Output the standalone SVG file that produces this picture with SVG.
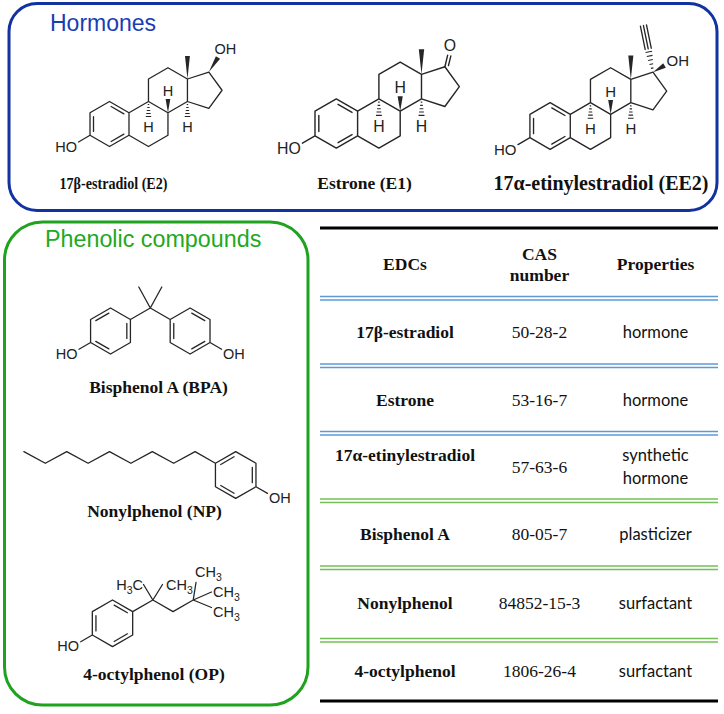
<svg xmlns="http://www.w3.org/2000/svg" width="724" height="714" viewBox="0 0 724 714">
<style>
.bd{fill:none;stroke:#262626;stroke-width:1.3;stroke-linecap:round;stroke-linejoin:round}
.hs{fill:none;stroke:#262626;stroke-width:1.1}
.wd{fill:#262626}
.at{font-family:"Liberation Sans",Arial,sans-serif;font-size:14.5px;fill:#222}
.lb{font-family:"Liberation Serif","Times New Roman",serif;font-weight:bold;fill:#111;text-anchor:middle}
.tb{font-family:"Liberation Serif","Times New Roman",serif;font-weight:bold;font-size:17.5px;fill:#111;text-anchor:middle}
.tn{font-family:"Liberation Serif","Times New Roman",serif;font-size:17.5px;fill:#111;text-anchor:middle}
.tp{font-family:Lato,"Liberation Sans",sans-serif;font-size:16.5px;fill:#111;text-anchor:middle}
.bl{stroke:#5b9bd5;stroke-width:1.5}
.gl{stroke:#72bf55;stroke-width:1.5}
.bk{stroke:#000;stroke-width:3}
</style>
<defs>
<g id="core">
<path class="bd" d="M0,-22.5 L19.49,-11.25 L19.49,11.25 L0,22.5 L-19.49,11.25 L-19.49,-11.25 Z M19.49,-11.25 L38.97,-22.5 L58.46,-11.25 L58.46,11.25 L38.97,22.5 L19.49,11.25 M38.97,-22.5 L38.97,-45 L58.46,-56.25 L77.94,-45 L77.94,-22.5 L58.46,-11.25 M77.94,-45 L99.34,-51.95 L112.57,-33.75 L99.34,-15.55 L77.94,-22.5 M-15.99,-7.38 L-15.99,7.38 M1.6,-17.54 L14.39,-10.15 M1.6,17.54 L14.39,10.15 M-19.49,11.25 L-31,18"/>
<path class="hs" d="M38.27,-19.5h1.4 M37.77,-16.5h2.4 M37.27,-13.5h3.4 M36.77,-10.5h4.4 M36.27,-7.5h5.4 M77.24,-19.5h1.4 M76.74,-16.5h2.4 M76.24,-13.5h3.4 M75.74,-10.5h4.4 M75.24,-7.5h5.4"/>
<polygon class="wd" points="58.46,-11.25 56.1,-25 60.8,-25"/>
<polygon class="wd" points="77.94,-45 75.5,-68 80.4,-68"/>
<text class="at" x="38.97" y="7.5" text-anchor="middle">H</text>
<text class="at" x="77.94" y="7.5" text-anchor="middle">H</text>
<text class="at" x="58.46" y="-28" text-anchor="middle">H</text>
<text class="at" x="-32.5" y="28" text-anchor="end">HO</text>
</g>
</defs>
<rect width="724" height="714" fill="#fff"/>

<g id="hormones-box">
<rect x="9" y="3.5" width="708" height="207" rx="28" fill="none" stroke="#12329f" stroke-width="3"/>
<text x="50" y="31" font-family="Liberation Sans, Arial, sans-serif" font-size="23" fill="#1a3db5">Hormones</text>
</g>

<g id="E2">
<g transform="translate(109.5,124)">
<use href="#core"/>
<polygon class="wd" points="99.34,-51.95 110.6,-65.2 106.4,-67.8"/>
<text class="at" x="105" y="-70.5">OH</text>
</g>
<text class="lb" x="113.5" y="188.5" font-size="16" textLength="108" lengthAdjust="spacingAndGlyphs">17β-estradiol (E2)</text>
</g>

<g id="E1">
<g transform="translate(336.3,123.5) scale(1.093)">
<use href="#core"/>
<path class="bd" d="M99.34,-51.95 L101.9,-62.5 M102.6,-53 L104.8,-61.8"/>
<text class="at" x="104" y="-66.8" text-anchor="middle">O</text>
</g>
<text class="lb" x="364.5" y="189" font-size="17.5">Estrone (E1)</text>
</g>

<g id="EE2">
<g transform="translate(550.1,126) scale(1.0356)">
<use href="#core"/>
<path class="hs" d="M97.36,-55.63 L99.72,-56.11 M95.98,-59.43 L99.5,-60.15 M94.69,-63.25 L99.19,-64.17 M93.4,-67.07 L98.88,-68.19 M92.2,-70.91 L98.48,-72.19"/>
<path class="bd" d="M94.74,-74.5 L90.14,-97 M97.68,-75.1 L93.08,-97.6 M91.8,-73.9 L87.2,-96.4"/>
<polygon class="wd" points="99.34,-51.95 111.77,-56.34 109.23,-60.66"/>
<text class="at" x="112.5" y="-57.5">OH</text>
</g>
<text class="lb" x="601" y="190" font-size="20">17α-etinylestradiol (EE2)</text>
</g>

<g id="phenolic-box">
<rect x="4.5" y="222" width="303.5" height="483" rx="38" fill="none" stroke="#1fa31f" stroke-width="3"/>
<text x="45" y="247" font-family="Liberation Sans, Arial, sans-serif" font-size="23.3" fill="#22a822">Phenolic compounds</text>
</g>

<g id="BPA">
<path class="bd" d="M110.5,308 L130.42,319.5 L130.42,342.5 L110.5,354 L90.58,342.5 L90.58,319.5 Z M190.1,308 L210.02,319.5 L210.02,342.5 L190.1,354 L170.18,342.5 L170.18,319.5 Z M130.42,319.5 L150.3,308 L170.18,319.5 M150.3,308 L138.8,287 M150.3,308 L161.8,287 M95.8,320.63 L108.87,313.08 M126.83,323.46 L126.83,338.54 M108.87,348.92 L95.8,341.37 M173.77,323.46 L173.77,338.54 M191.73,348.92 L204.8,341.37 M204.8,320.63 L191.73,313.08 M90.58,342.5 L79,349.2 M210.02,342.5 L221.6,349.2"/>
<text class="at" x="77.5" y="358.5" text-anchor="end">HO</text>
<text class="at" x="223" y="358.5">OH</text>
<text class="lb" x="158.5" y="393" font-size="17.5">Bisphenol A (BPA)</text>
</g>

<g id="NP">
<path class="bd" d="M23.9,451.6 L45.3,463.3 L66.7,451.6 L88.1,463.3 L109.5,451.6 L130.9,463.3 L152.3,451.6 L173.7,463.3 L195.1,451.6 L215.44,463.3 M235.7,451.6 L255.96,463.3 L255.96,486.7 L235.7,498.4 L215.44,486.7 L215.44,463.3 Z M252.31,467.3 L252.31,482.7 M220.75,464.45 L234.04,456.77 M234.04,493.23 L220.75,485.55 M255.96,486.7 L267.5,493.4"/>
<text class="at" x="269" y="503">OH</text>
<text class="lb" x="154.5" y="517" font-size="17.5">Nonylphenol (NP)</text>
</g>

<g id="OP">
<path class="bd" d="M112.5,600 L132.68,611.65 L132.68,634.95 L112.5,646.6 L92.32,634.95 L92.32,611.65 Z M95.95,615.66 L95.95,630.94 M114.16,605.15 L127.4,612.79 M114.16,641.45 L127.4,633.81 M92.32,634.95 L80.7,641.7 M132.68,611.65 L152.86,600 L173.04,611.65 L193.22,600 M152.86,600 L143.5,584.5 M152.86,600 L162.5,584.5 M193.22,600 L196,582.5 M193.22,600 L211.5,592 M193.22,600 L211.5,607.5"/>
<text class="at" x="79" y="651" text-anchor="end">HO</text>
<text class="at" x="143" y="590" text-anchor="end">H<tspan font-size="10.5" dy="4">3</tspan><tspan dy="-4">C</tspan></text>
<text class="at" x="166" y="590">CH<tspan font-size="10.5" dy="4">3</tspan></text>
<text class="at" x="195" y="577">CH<tspan font-size="10.5" dy="4">3</tspan></text>
<text class="at" x="213" y="597">CH<tspan font-size="10.5" dy="4">3</tspan></text>
<text class="at" x="213" y="617">CH<tspan font-size="10.5" dy="4">3</tspan></text>
<text class="lb" x="154" y="680" font-size="17.5">4-octylphenol (OP)</text>
</g>

<g id="table-lines">
<line class="bk" x1="320" y1="228" x2="718" y2="228"/>
<line class="bl" x1="320" y1="296.5" x2="718" y2="296.5"/>
<line class="bl" x1="320" y1="300" x2="718" y2="300"/>
<line class="bl" x1="320" y1="364" x2="718" y2="364"/>
<line class="bl" x1="320" y1="367.5" x2="718" y2="367.5"/>
<line class="bl" x1="320" y1="431.5" x2="718" y2="431.5"/>
<line class="bl" x1="320" y1="435" x2="718" y2="435"/>
<line class="gl" x1="320" y1="499" x2="718" y2="499"/>
<line class="gl" x1="320" y1="502.5" x2="718" y2="502.5"/>
<line class="gl" x1="320" y1="566" x2="718" y2="566"/>
<line class="gl" x1="320" y1="569.5" x2="718" y2="569.5"/>
<line class="gl" x1="320" y1="638.5" x2="718" y2="638.5"/>
<line class="gl" x1="320" y1="642" x2="718" y2="642"/>
<line class="bk" x1="320" y1="701" x2="718" y2="701"/>
</g>

<g id="table-header">
<text class="tb" x="405" y="270">EDCs</text>
<text class="tb" x="539.5" y="259.5">CAS</text>
<text class="tb" x="539.5" y="280.5">number</text>
<text class="tb" x="655.5" y="270">Properties</text>
</g>
<g id="row-E2">
<text class="tb" x="405" y="337.5">17β-estradiol</text>
<text class="tn" x="539.5" y="337.5">50-28-2</text>
<text class="tp" x="655.5" y="337.5">hormone</text>
</g>
<g id="row-E1">
<text class="tb" x="405" y="405.5">Estrone</text>
<text class="tn" x="539.5" y="405.5">53-16-7</text>
<text class="tp" x="655.5" y="405.5">hormone</text>
</g>
<g id="row-EE2">
<text class="tb" x="405" y="461">17α-etinylestradiol</text>
<text class="tn" x="539.5" y="473">57-63-6</text>
<text class="tp" x="655.5" y="460.5">synthetic</text>
<text class="tp" x="655.5" y="484">hormone</text>
</g>
<g id="row-BPA">
<text class="tb" x="405" y="540">Bisphenol A</text>
<text class="tn" x="539.5" y="540">80-05-7</text>
<text class="tp" x="655.5" y="540">plasticizer</text>
</g>
<g id="row-NP">
<text class="tb" x="405" y="609">Nonylphenol</text>
<text class="tn" x="539.5" y="609">84852-15-3</text>
<text class="tp" x="655.5" y="609">surfactant</text>
</g>
<g id="row-OP">
<text class="tb" x="405" y="677">4-octylphenol</text>
<text class="tn" x="539.5" y="677">1806-26-4</text>
<text class="tp" x="655.5" y="677">surfactant</text>
</g>
</svg>
